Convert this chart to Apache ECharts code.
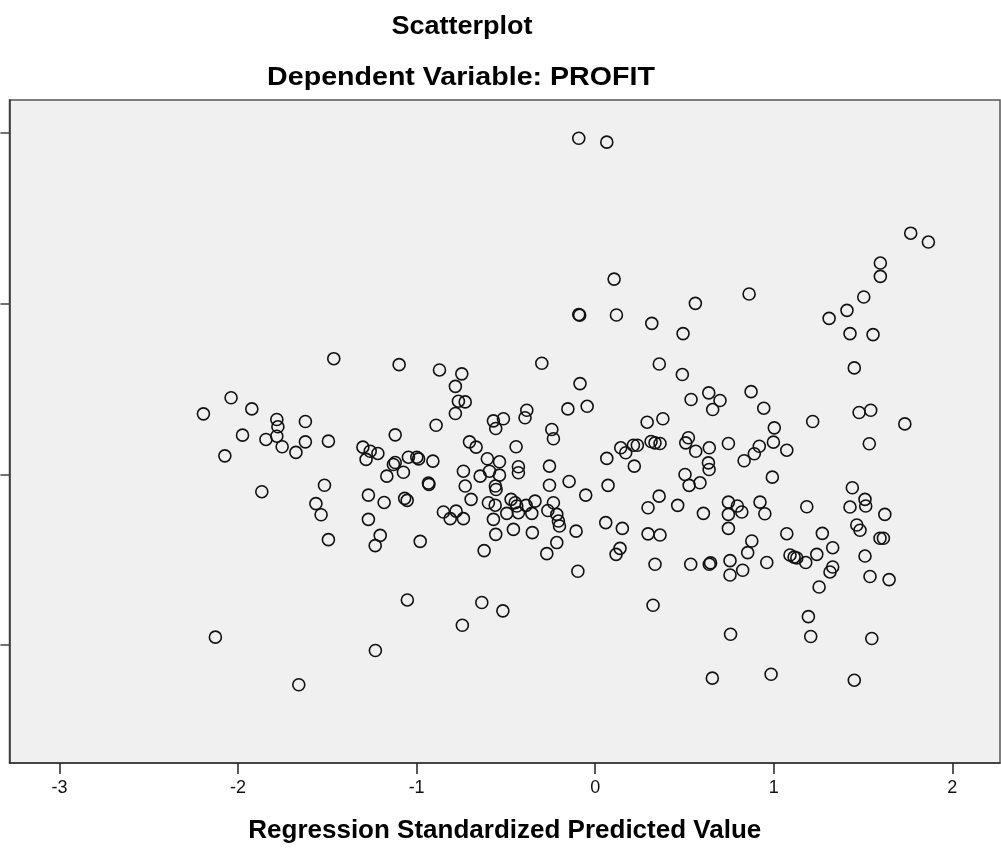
<!DOCTYPE html>
<html><head><meta charset="utf-8">
<script src="https://cdn.jsdelivr.net/npm/echarts@6/dist/echarts.min.js"></script>
<style>html,body{margin:0;padding:0;background:#fff}#c{width:1001px;height:849px}</style>
</head><body><div id="c"></div>
<script>
// Regression Standardized Predicted Value (x) and PROFIT (y, in tick units; labels not visible)
const xValues = [
-0.092,0.065,1.767,1.866,1.597,1.597,1.504,1.410,1.310,0.106,-0.092,-0.087,0.119,0.317,0.561,0.862,0.492,1.427,1.556,
-1.464,-2.039,-2.194,-1.923,-1.783,-1.777,-1.623,-1.975,-1.844,-1.783,-1.753,-1.676,-1.623,-1.494,-2.074,-1.867,-1.516,-1.564,-1.535,-1.494,
-1.098,-1.120,-1.301,-1.260,-1.217,-1.283,-1.130,-1.167,-1.270,-1.182,-1.270,-1.204,-1.232,-1.120,
-0.872,-0.747,-0.783,-0.766,-0.728,-0.783,-0.299,-0.085,-0.153,-0.045,0.291,-0.891,-0.570,-0.514,-0.557,-0.383,-0.393,-0.243,-0.234,
-0.704,-0.667,-0.443,-1.046,-0.999,-0.989,-0.909,-1.074,-0.934,-0.931,-0.604,-0.536,-0.738,-0.644,-0.592,-0.536,-0.430,-0.430,
-0.256,-0.256,-0.146,0.065,0.143,0.171,0.214,0.236,0.219,0.072,-0.559,-0.555,-0.728,-0.695,-1.067,-1.053,-0.598,-0.560,-0.471,
-0.448,-0.439,-0.387,-0.337,-0.234,-0.265,-0.215,-0.206,-0.200,-0.053,0.296,-0.850,-0.812,-0.779,-0.738,-0.570,-0.495,-0.430,
-0.355,-0.458,-0.557,-0.352,-0.107,0.059,0.152,0.296,-0.980,-0.622,-0.271,-0.215,0.117,0.139,-0.097,
0.359,0.488,1.451,0.537,0.636,0.699,0.658,0.873,0.944,1.478,1.543,1.734,1.218,1.003,0.379,0.746,0.998,0.919,0.891,0.834,1.073,
1.535,0.522,0.507,0.563,0.639,0.313,0.335,0.363,0.634,0.638,0.503,0.526,0.587,0.992,1.440,1.511,1.515,1.427,1.622,0.358,0.462,
0.606,0.746,0.796,0.821,0.746,0.923,0.950,1.185,0.746,0.363,0.877,0.854,1.073,1.272,1.330,1.465,1.483,1.595,1.614,1.511,1.241,
1.091,1.114,1.129,1.179,1.330,1.315,1.254,1.539,1.646,0.335,0.535,0.639,0.646,0.755,0.755,0.826,0.961,0.324,1.194,0.758,
-0.517,1.207,1.549,0.656,0.985,1.451,-2.127,-1.660,-1.231,-1.052,-0.744,-0.635
];
const yValues = [
2.969,2.946,2.413,2.361,2.238,2.160,2.039,1.961,1.914,2.144,1.937,1.933,1.934,1.885,2.002,2.057,1.825,1.825,1.819,
1.678,1.449,1.355,1.384,1.322,1.279,1.310,1.230,1.205,1.224,1.162,1.129,1.191,1.195,1.109,0.899,0.937,0.829,0.764,0.618,
1.643,1.232,1.160,1.136,1.123,1.088,1.058,0.990,0.879,0.836,0.737,0.643,0.583,1.070,
1.612,1.589,1.516,1.429,1.425,1.357,1.651,1.532,1.384,1.399,1.306,1.288,1.314,1.326,1.269,1.376,1.332,1.263,1.209,
1.191,1.160,1.162,1.101,1.101,1.091,1.078,1.013,0.950,0.942,1.092,1.074,1.019,0.990,1.019,0.996,1.045,1.010,
1.049,0.937,0.959,1.094,1.156,1.127,1.171,1.171,1.049,0.936,0.932,0.912,0.932,0.854,0.860,0.848,0.834,0.820,0.854,
0.834,0.815,0.819,0.844,0.834,0.789,0.766,0.727,0.698,0.879,0.805,0.780,0.741,0.785,0.741,0.737,0.772,0.776,
0.772,0.678,0.649,0.659,0.668,0.718,0.684,0.652,0.608,0.554,0.536,0.601,0.532,0.567,0.433,
1.647,1.585,1.624,1.439,1.478,1.433,1.380,1.485,1.388,1.363,1.376,1.296,1.310,1.273,1.326,1.181,1.189,1.165,1.121,1.080,1.142,
1.180,1.215,1.185,1.136,1.156,1.193,1.185,1.181,1.068,1.029,1.000,0.936,0.951,0.984,0.922,0.854,0.815,0.809,0.766,0.873,0.819,
0.772,0.838,0.815,0.780,0.766,0.838,0.770,0.811,0.684,0.645,0.610,0.542,0.653,0.655,0.571,0.704,0.673,0.626,0.626,0.522,0.532,
0.528,0.516,0.511,0.484,0.458,0.429,0.341,0.402,0.384,0.474,0.474,0.474,0.482,0.495,0.411,0.439,0.484,0.234,0.167,0.064,
0.201,0.051,0.039,-0.193,-0.170,-0.205,0.047,-0.232,-0.031,0.265,0.117,0.250
];
const xTicks = [-3, -2, -1, 0, 1, 2];
const yTicks = [0, 1, 2, 3];
const points = xValues.map((x, i) => [x, yValues[i]]);

const FONT = "'Liberation Sans', Arial, sans-serif";
const chart = echarts.init(document.getElementById('c'), null, {renderer: 'canvas'});
chart.setOption({
  animation: false,
  backgroundColor: '#ffffff',
  graphic: [
    {type: 'text', x: 462, y: 27, scaleX: 1.04, style: {text: 'Scatterplot', font: 'bold 26px ' + FONT, fill: '#000', align: 'center', verticalAlign: 'middle'}},
    {type: 'text', x: 461, y: 78, scaleX: 1.1, style: {text: 'Dependent Variable: PROFIT', font: 'bold 26px ' + FONT, fill: '#000', align: 'center', verticalAlign: 'middle'}}
  ],
  grid: {
    left: 9.5, right: 1, top: 100, bottom: 85,
    show: true, backgroundColor: '#F0F0F0', borderColor: '#555', borderWidth: 1.5
  },
  xAxis: {
    type: 'value', min: -3.28, max: 2.267,
    name: 'Regression Standardized Predicted Value',
    nameLocation: 'middle', nameGap: 55,
    nameTextStyle: {fontFamily: FONT, fontWeight: 'bold', fontSize: 26, color: '#000'},
    axisLine: {show: true, onZero: false, lineStyle: {color: '#333', width: 1.5}},
    axisTick: {show: true, length: 11, customValues: xTicks, lineStyle: {color: '#222', width: 1.5}},
    axisLabel: {show: true, customValues: xTicks, margin: 16, fontFamily: FONT, fontSize: 18, color: '#111'},
    splitLine: {show: false}
  },
  yAxis: {
    type: 'value', min: -0.69, max: 3.193,
    axisLine: {show: true, onZero: false, lineStyle: {color: '#333', width: 1.5}},
    axisTick: {show: true, length: 9, customValues: yTicks, lineStyle: {color: '#444', width: 1.5}},
    axisLabel: {show: false, customValues: yTicks},
    splitLine: {show: false}
  },
  series: [{
    type: 'scatter',
    data: points,
    symbol: 'circle',
    symbolSize: 12,
    itemStyle: {color: 'rgba(0,0,0,0)', borderColor: '#111', borderWidth: 1.6, opacity: 1},
    emphasis: {disabled: true}
  }]
});
</script>
</body></html>
